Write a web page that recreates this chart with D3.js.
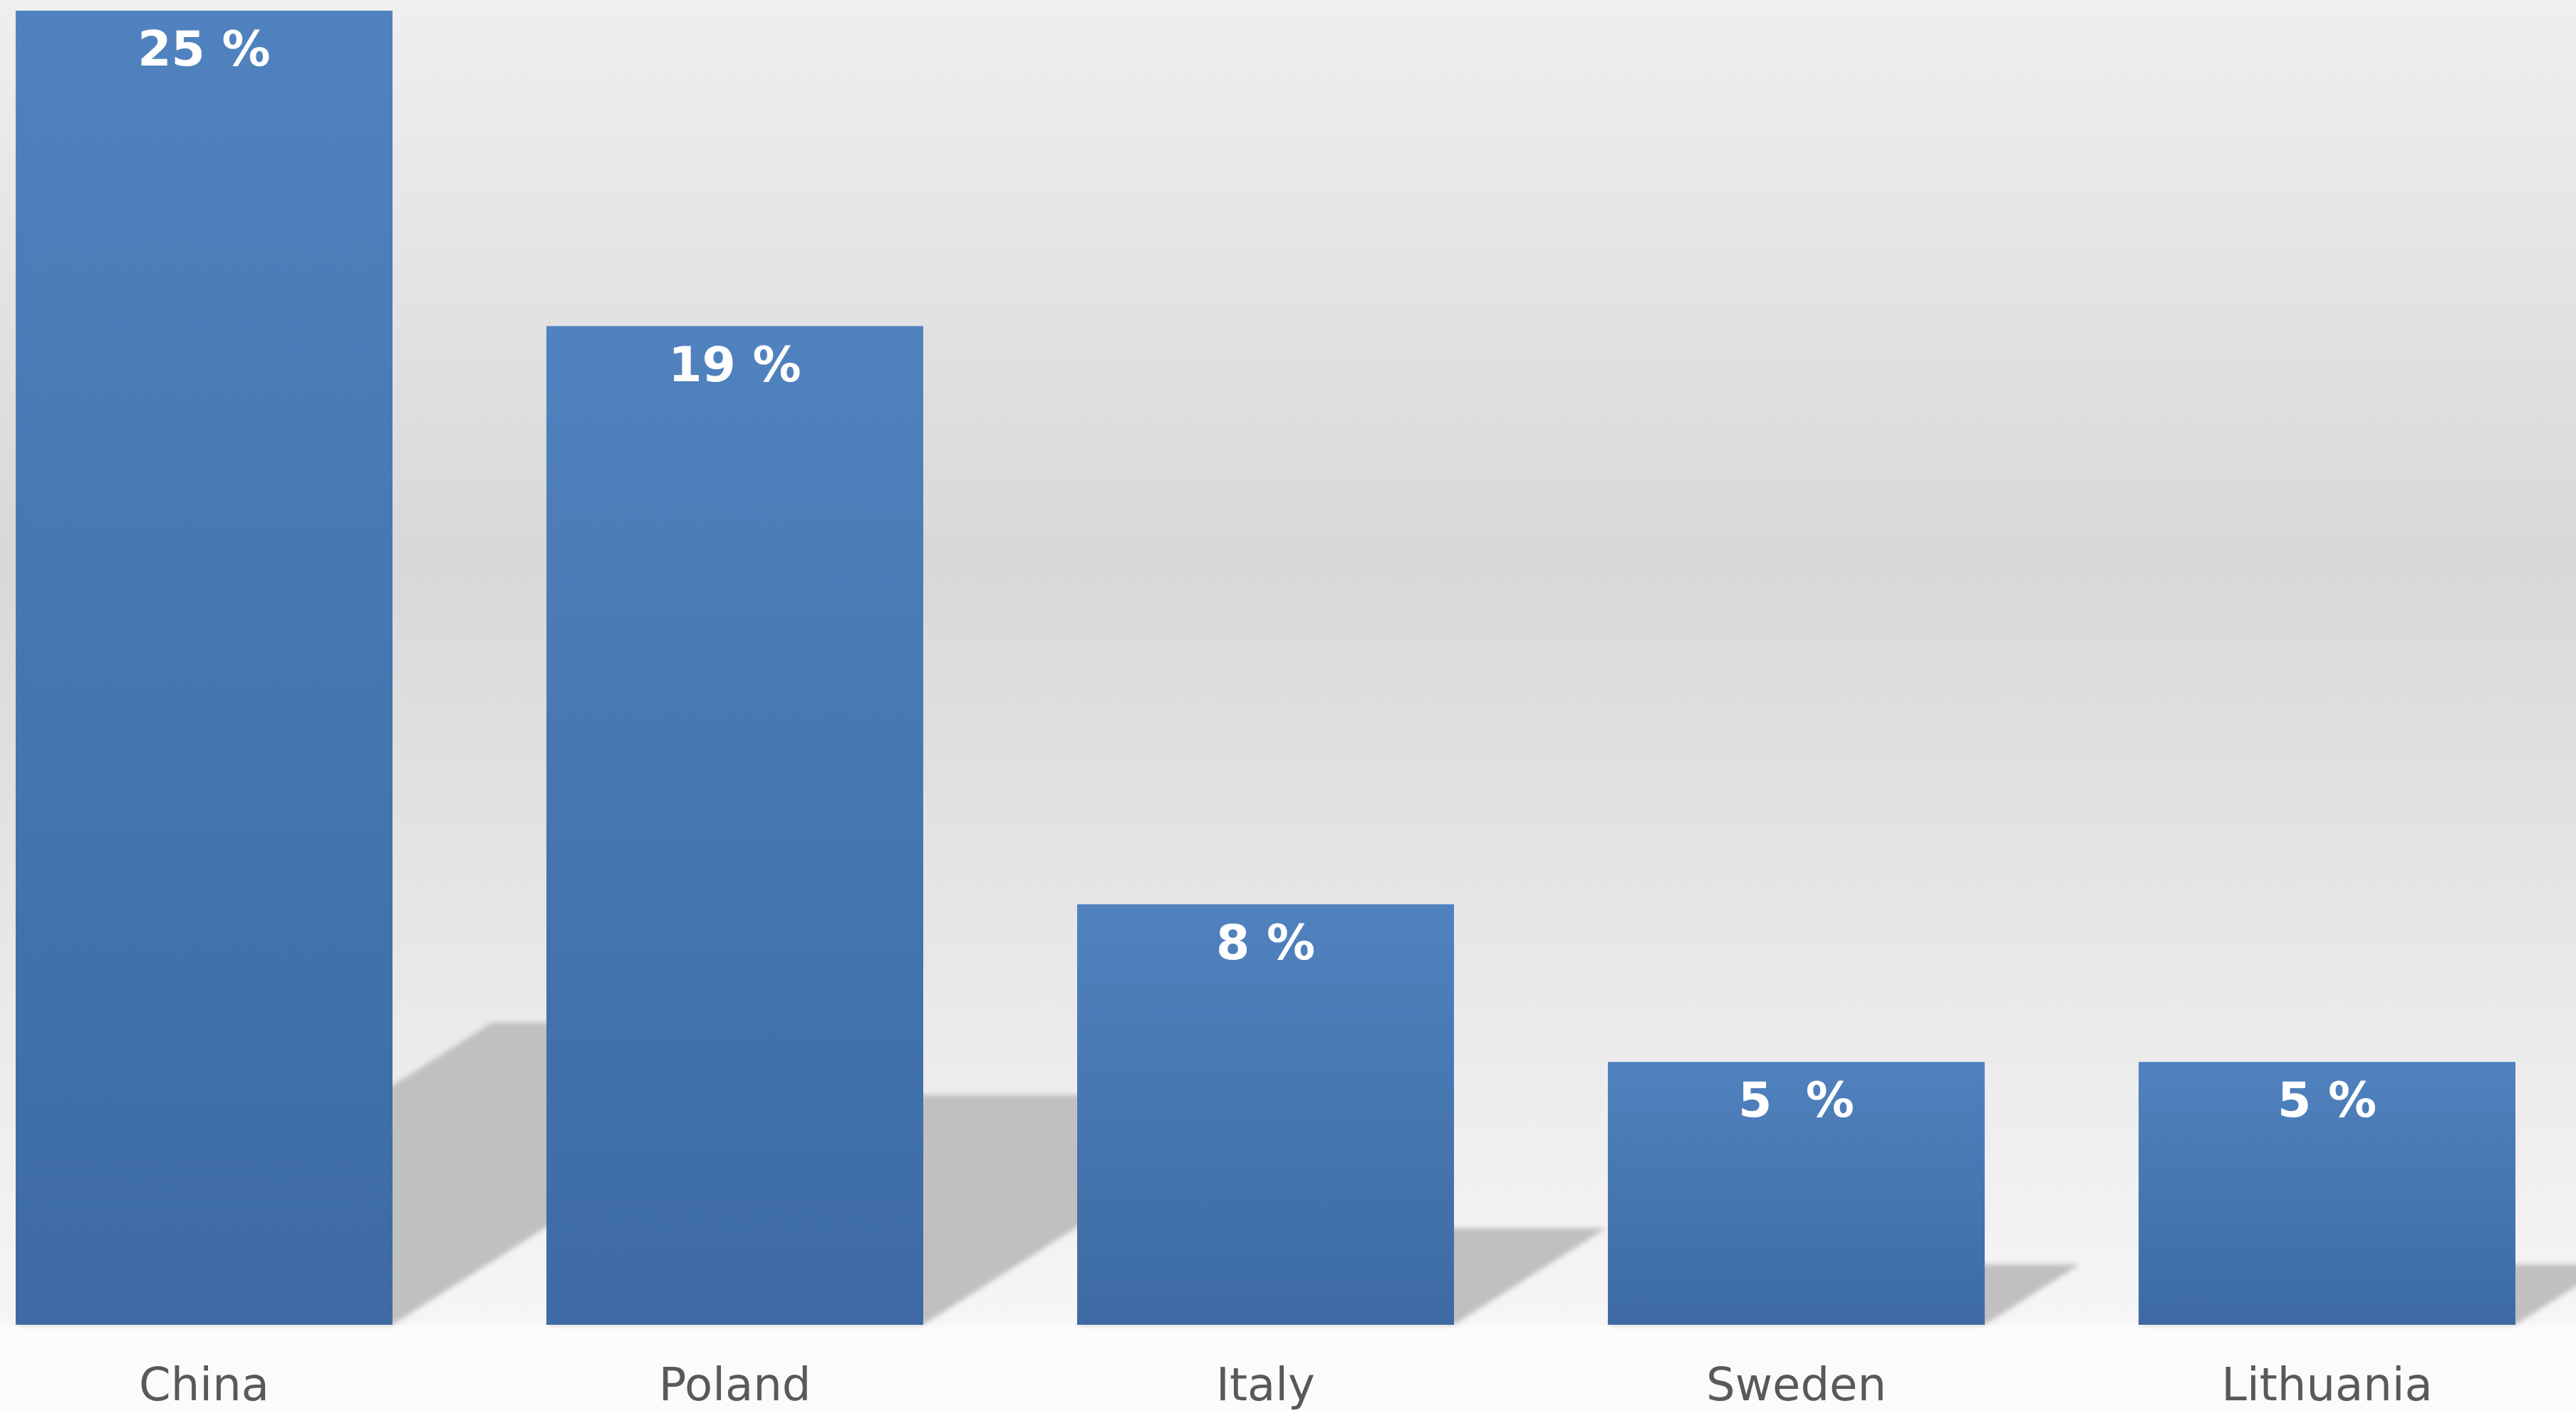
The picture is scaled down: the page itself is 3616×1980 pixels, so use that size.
<!DOCTYPE html>
<html lang="en">
<head>
    <meta charset="UTF-8">
    <title>Share by country</title>
    <script src="https://d3js.org/d3.v7.min.js"></script>
    <style>
        html, body { margin: 0; padding: 0; background: #fbfbfb; }
        svg { display: block; }
        .value { font-family: "DejaVu Sans", Verdana, sans-serif; font-weight: bold; font-size: 68px; fill: #fff; }
        .cat { font-family: "DejaVu Sans", Verdana, sans-serif; font-size: 64px; fill: #595959; }
    </style>
</head>
<body>
    <svg id="chart" width="3616" height="1980"></svg>
    <script>
        const categories = ["China", "Poland", "Italy", "Sweden", "Lithuania"];
        const values = [25, 19, 8, 5, 5];
        const valueLabels = ["25 %", "19 %", "8 %", "5  %", "5 %"];

        const svg = d3.select("#chart"),
              width = +svg.attr("width"),
              height = +svg.attr("height"),
              base = 1859;

        const x = d3.scaleBand()
            .domain(categories)
            .range([-86, 3639])
            .paddingInner(0.29)
            .paddingOuter(0.145);

        const y = d3.scaleLinear()
            .domain([0, 25])
            .range([base, 15]);

        const defs = svg.append("defs");

        // background gradient of the plot area
        const bg = defs.append("linearGradient")
            .attr("id", "bg").attr("x1", 0).attr("y1", 0).attr("x2", 0).attr("y2", 1);
        bg.append("stop").attr("offset", 0).attr("stop-color", "#efefef");
        bg.append("stop").attr("offset", 0.42).attr("stop-color", "#d8d8d8");
        bg.append("stop").attr("offset", 1).attr("stop-color", "#f6f6f6");

        const barGrad = defs.append("linearGradient")
            .attr("id", "bar").attr("x1", 0).attr("y1", 0).attr("x2", 0).attr("y2", 1);
        barGrad.append("stop").attr("offset", 0).attr("stop-color", "#5082bf");
        barGrad.append("stop").attr("offset", 1).attr("stop-color", "#3d6aa2");

        defs.append("filter").attr("id", "soft")
            .attr("x", "-10%").attr("y", "-10%").attr("width", "120%").attr("height", "120%")
            .append("feGaussianBlur").attr("stdDeviation", 3.5);

        svg.append("rect")
            .attr("width", width).attr("height", base)
            .attr("fill", "url(#bg)");
        svg.append("rect")
            .attr("y", base).attr("width", width).attr("height", height - base)
            .attr("fill", "#fbfbfb");

        const data = categories.map((c, i) => ({ c, v: values[i], label: valueLabels[i] }));

        // slanted shadows falling back to the right
        const squash = 0.23, lean = 1.576;
        svg.append("g").attr("filter", "url(#soft)")
            .selectAll("polygon")
            .data(data)
            .join("polygon")
            .attr("fill", "#c0c0c0")
            .attr("points", d => {
                const x0 = x(d.c), x1 = x0 + x.bandwidth();
                const s = (base - y(d.v)) * squash, dx = s * lean;
                return [[x0, base], [x1, base], [x1 + dx, base - s], [x0 + dx, base - s]].join(" ");
            });

        svg.append("g")
            .selectAll("rect")
            .data(data)
            .join("rect")
            .attr("x", d => x(d.c))
            .attr("y", d => y(d.v))
            .attr("width", x.bandwidth())
            .attr("height", d => base - y(d.v))
            .attr("fill", "url(#bar)");

        svg.append("g")
            .selectAll("text")
            .data(data)
            .join("text")
            .attr("class", "value")
            .attr("x", d => x(d.c) + x.bandwidth() / 2)
            .attr("y", d => y(d.v) + 77)
            .attr("text-anchor", "middle")
            .attr("xml:space", "preserve")
            .style("white-space", "pre")
            .text(d => d.label);

        svg.append("g")
            .selectAll("text")
            .data(data)
            .join("text")
            .attr("class", "cat")
            .attr("x", d => x(d.c) + x.bandwidth() / 2)
            .attr("y", 1965)
            .attr("text-anchor", "middle")
            .text(d => d.c);
    </script>
</body>
</html>
